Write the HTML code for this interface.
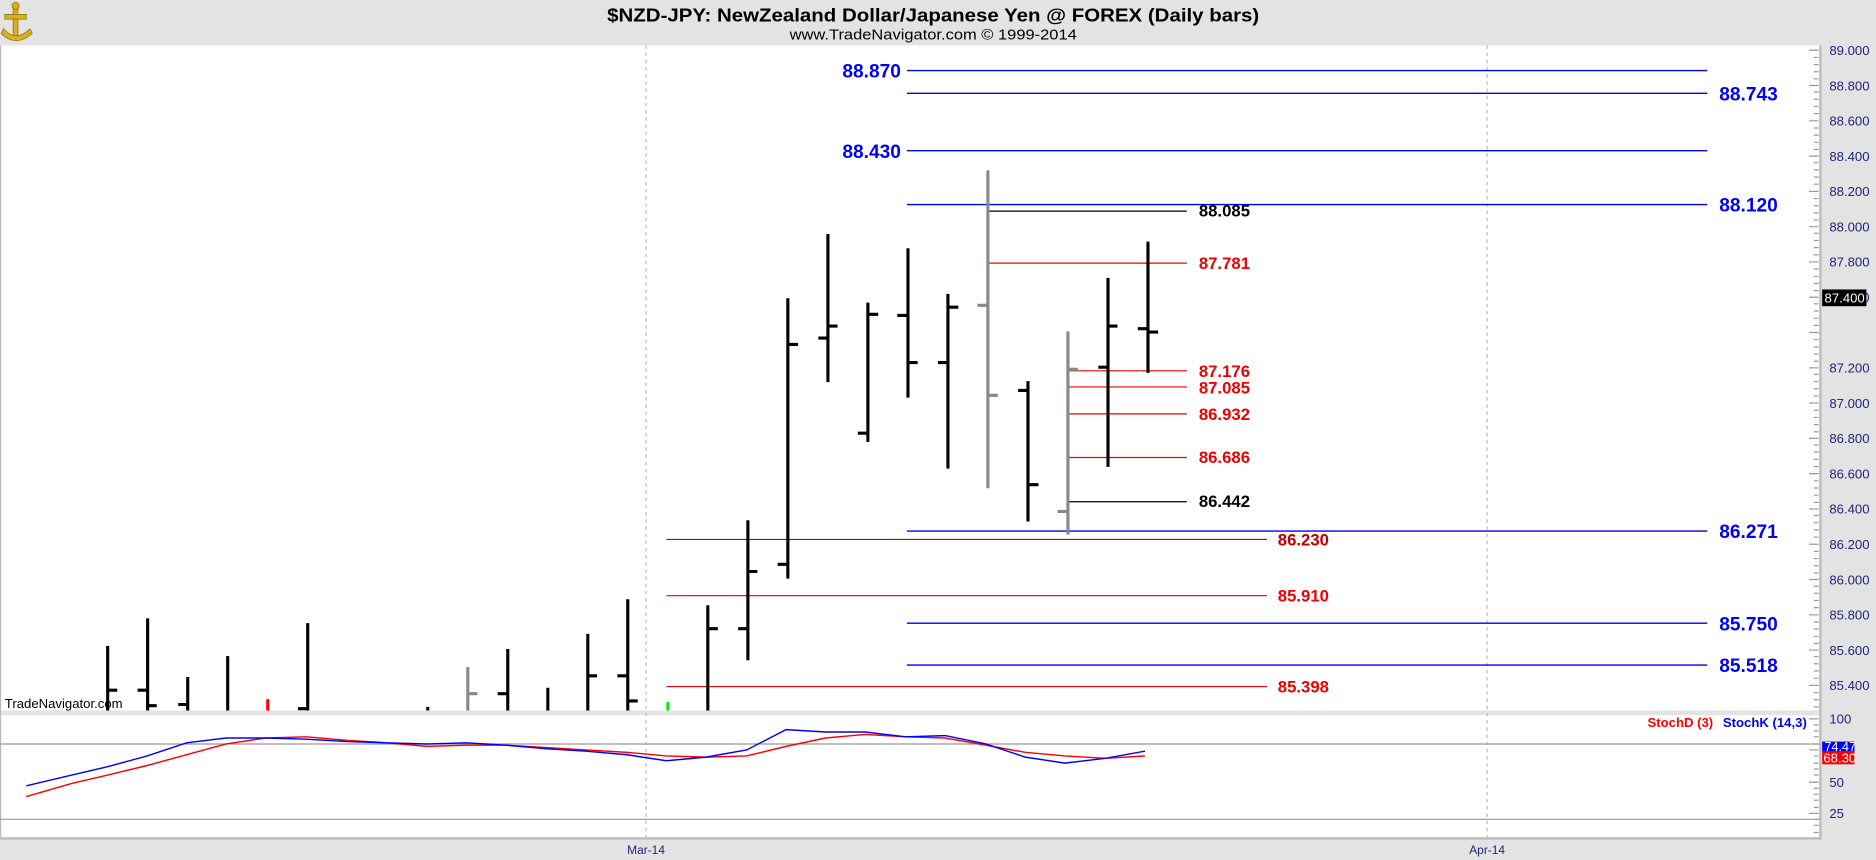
<!DOCTYPE html>
<html><head><meta charset="utf-8"><style>
html,body{margin:0;padding:0;background:#e3e3e3;}
svg{display:block;font-family:"Liberation Sans",Arial,sans-serif;}
</style></head><body>
<svg width="1876" height="860" viewBox="0 0 1568 719" preserveAspectRatio="none" xmlns="http://www.w3.org/2000/svg">
<rect x="0" y="0" width="1568" height="719" fill="#e3e3e3"/>
<!-- logo -->
<g fill="#d9b21a" stroke="#8a6d00" stroke-width="0.6">
<rect x="11" y="4" width="4" height="26"/>
<rect x="4" y="12" width="18" height="4"/>
<path d="M3 24 Q13 36 25 24 L27 28 Q13 40 1 28 Z"/>
<circle cx="13" cy="5" r="3"/>
</g>
<!-- title -->
<text x="780" y="18" text-anchor="middle" font-size="15.5" font-weight="bold" fill="#000" textLength="545" lengthAdjust="spacingAndGlyphs">$NZD-JPY:  NewZealand Dollar/Japanese Yen @ FOREX  (Daily bars)</text>
<text x="780" y="33" text-anchor="middle" font-size="12" fill="#000" textLength="240" lengthAdjust="spacingAndGlyphs">www.TradeNavigator.com © 1999-2014</text>
<!-- panels -->
<rect x="0" y="38" width="1521" height="556" fill="#fff"/>
<rect x="0" y="598" width="1521" height="102" fill="#fff"/>
<line x1="0.5" y1="38" x2="0.5" y2="700" stroke="#bbb"/>
<line x1="1521.5" y1="38" x2="1521.5" y2="702" stroke="#bdbdbd" stroke-width="2"/>
<line x1="0" y1="701" x2="1522" y2="701" stroke="#bdbdbd" stroke-width="2"/>
<!-- dashed verticals -->
<line x1="540" y1="38" x2="540" y2="700" stroke="#bbb" stroke-dasharray="3,3"/>
<line x1="1243" y1="38" x2="1243" y2="700" stroke="#bbb" stroke-dasharray="3,3"/>
<!-- price axis -->
<g font-size="11" fill="#23237a">
<text x="1529" y="46">89.000</text><text x="1529" y="75.5">88.800</text><text x="1529" y="105">88.600</text>
<text x="1529" y="134.5">88.400</text><text x="1529" y="164">88.200</text><text x="1529" y="193.5">88.000</text>
<text x="1529" y="223">87.800</text><text x="1529" y="252.5">87.600</text>
<text x="1529" y="311.5">87.200</text><text x="1529" y="341">87.000</text><text x="1529" y="370.5">86.800</text>
<text x="1529" y="400">86.600</text><text x="1529" y="429.5">86.400</text><text x="1529" y="459">86.200</text>
<text x="1529" y="488.5">86.000</text><text x="1529" y="518">85.800</text><text x="1529" y="547.5">85.600</text>
<text x="1529" y="577">85.400</text>
</g>
<g stroke="#999" stroke-width="1">
<path d="M1512 42H1520M1512 71.5H1520M1512 101H1520M1512 130.5H1520M1512 160H1520M1512 189.5H1520M1512 219H1520M1512 248.5H1520M1512 278H1520M1512 307.5H1520M1512 337H1520M1512 366.5H1520M1512 396H1520M1512 425.5H1520M1512 455H1520M1512 484.5H1520M1512 514H1520M1512 543.5H1520M1512 573H1520"/>
<path d="M1516 48H1520M1516 54H1520M1516 60H1520M1516 66H1520M1516 77H1520M1516 83H1520M1516 89H1520M1516 95H1520M1516 107H1520M1516 113H1520M1516 119H1520M1516 125H1520M1516 136H1520M1516 142H1520M1516 148H1520M1516 154H1520M1516 166H1520M1516 172H1520M1516 178H1520M1516 184H1520M1516 195H1520M1516 201H1520M1516 207H1520M1516 213H1520M1516 225H1520M1516 231H1520M1516 237H1520M1516 243H1520M1516 254H1520M1516 260H1520M1516 266H1520M1516 272H1520M1516 284H1520M1516 290H1520M1516 296H1520M1516 302H1520M1516 313H1520M1516 319H1520M1516 325H1520M1516 331H1520M1516 343H1520M1516 349H1520M1516 355H1520M1516 361H1520M1516 372H1520M1516 378H1520M1516 384H1520M1516 390H1520M1516 402H1520M1516 408H1520M1516 414H1520M1516 420H1520M1516 431H1520M1516 437H1520M1516 443H1520M1516 449H1520M1516 461H1520M1516 467H1520M1516 473H1520M1516 479H1520M1516 490H1520M1516 496H1520M1516 502H1520M1516 508H1520M1516 520H1520M1516 526H1520M1516 532H1520M1516 538H1520M1516 549H1520M1516 555H1520M1516 561H1520M1516 567H1520M1516 579H1520M1516 585H1520M1516 591H1520"/>
</g>
<rect x="1523" y="242" width="37" height="14" fill="#000"/>
<text x="1525" y="253" font-size="11" fill="#fff">87.400</text>
<!-- blue levels -->
<g stroke="#0000ee" stroke-width="1.2">
<path d="M758 59H1427M758 78H1427M758 126H1427M758 171H1427M758 444H1427M758 521H1427M758 556H1427"/>
</g>
<g font-size="16" font-weight="bold" fill="#0000ff">
<text x="753" y="65" text-anchor="end">88.870</text>
<text x="753" y="132" text-anchor="end">88.430</text>
<text x="1437" y="84">88.743</text>
<text x="1437" y="177">88.120</text>
<text x="1437" y="450">86.271</text>
<text x="1437" y="527">85.750</text>
<text x="1437" y="562">85.518</text>
</g>
<!-- black/red levels -->
<g stroke-width="1">
<path d="M826 176.5H992" stroke="#000"/>
<path d="M893 419.5H992" stroke="#000"/>
<path d="M826 220H992M893 310H992M893 323.5H992M893 346H992M893 382.5H992" stroke="#ee0000"/>
<path d="M557 451H1059" stroke="#c00000"/>
<path d="M557 498H1059M557 574H1059" stroke="#ee0000"/>
</g>
<g font-size="14" font-weight="bold">
<text x="1002" y="181" fill="#000">88.085</text>
<text x="1002" y="225" fill="#ee0000">87.781</text>
<text x="1002" y="315" fill="#ee0000">87.176</text>
<text x="1002" y="329" fill="#ee0000">87.085</text>
<text x="1002" y="351" fill="#ee0000">86.932</text>
<text x="1002" y="387" fill="#ee0000">86.686</text>
<text x="1002" y="424" fill="#000">86.442</text>
<text x="1068" y="456" fill="#c00000">86.230</text>
<text x="1068" y="503" fill="#ee0000">85.910</text>
<text x="1068" y="579" fill="#ee0000">85.398</text>
</g>
<!-- bars -->
<g stroke="#000" stroke-width="2.6" fill="none">
<path d="M90 540V594M90 577H98"/>
<path d="M123.4 517V594M115 577H123.4M123.4 590H131"/>
<path d="M156.9 566V594M149 589H156.9"/>
<path d="M190.3 548.5V594"/>
<path d="M257.2 521V594M249 592.5H257.2"/>
<path d="M357.5 591V594"/>
<path d="M424.4 542.6V594M416 580H424.4"/>
<path d="M457.9 575V594"/>
<path d="M491.3 530V594M491.3 565H499"/>
<path d="M524.7 501V594M516 565H524.7M524.7 586H533"/>
<path d="M591.6 506V594M591.6 525.6H600"/>
<path d="M625.1 435V552M617 525.6H625.1M625.1 477.8H633"/>
<path d="M658.5 249.3V483.8M650 471.8H658.5M658.5 288H667"/>
<path d="M692 195.6V319.5M684 282.6H692M692 272.6H700"/>
<path d="M725.4 253V369.4M717 362.2H725.4M725.4 262.8H734"/>
<path d="M758.9 207.5V332.4M750 263.7H758.9M758.9 303.1H767"/>
<path d="M792.3 245.7V391.8M784 303.1H792.3M792.3 256.8H801"/>
<path d="M859.2 318.6V436M851 326.4H859.2M859.2 405.2H868"/>
<path d="M926.1 232.3V390.3M918 307H926.1M926.1 272.6H934"/>
<path d="M959.5 202V311.7M951 274.8H959.5M959.5 277.6H968"/>
</g>
<g stroke="#888" stroke-width="2.6" fill="none">
<path d="M391 557.7V594M391 580H399"/>
<path d="M825.7 142.4V408.2M817 255.3H825.7M825.7 330.5H834"/>
<path d="M892.6 277.1V447M884 427.6H892.6M892.6 308.8H901"/>
</g>
<path d="M223.8 584.5V594" stroke="#ff0000" stroke-width="2.6"/>
<path d="M558.2 587V594" stroke="#00ee00" stroke-width="2.6"/>
<text x="4" y="592" font-size="11" fill="#000">TradeNavigator.com</text>
<!-- stoch panel -->
<line x1="0" y1="622" x2="1521" y2="622" stroke="#999"/>
<line x1="0" y1="685" x2="1521" y2="685" stroke="#999"/>
<text x="1377" y="608" font-size="11" font-weight="bold" fill="#ff0000">StochD (3)</text>
<text x="1440" y="608" font-size="11" font-weight="bold" fill="#0000ff">StochK (14,3)</text>
<polyline fill="none" stroke="#ff0000" stroke-width="1.2" points="22,666 60,655 90,648 123,640 156,631 189,622 222,617 256,616 290,619 323,621 357,624 390,623 423,623 457,625 490,627 524,629 557,632 590,633 624,632 657,624 690,617 723,614 757,616 790,617 824,623 857,629 890,632 924,634 957,632"/>
<polyline fill="none" stroke="#0000ff" stroke-width="1.2" points="22,657 60,648 90,641 123,632 156,621 189,617 222,617 256,618 290,620 323,621 357,622 390,621 423,623 457,626 490,628 524,631 557,636 590,633 624,627 657,610 690,612 723,612 757,616 790,615 824,622 857,633 890,638 924,634 957,628"/>
<g font-size="11" fill="#23237a">
<text x="1529" y="605">100</text><text x="1529" y="658">50</text><text x="1529" y="684">25</text>
</g>
<g stroke="#999"><path d="M1512 601H1520M1512 627H1520M1512 654H1520M1512 680H1520M1516 606H1520M1516 611H1520M1516 616H1520M1516 622H1520M1516 632H1520M1516 638H1520M1516 643H1520M1516 648H1520M1516 659H1520M1516 664H1520M1516 669H1520M1516 675H1520M1516 685H1520M1516 690H1520M1516 696H1520"/></g>
<rect x="1523" y="620" width="27" height="9" fill="#0000ff"/>
<text x="1525" y="628" font-size="10.5" fill="#fff">74.47</text>
<rect x="1523" y="628" width="27" height="11" fill="#ff0000"/>
<text x="1524" y="637.5" font-size="11" fill="#fff">68.30</text>
<!-- dates -->
<text x="540" y="714" font-size="10" fill="#23237a" text-anchor="middle">Mar-14</text>
<text x="1243" y="714" font-size="10" fill="#23237a" text-anchor="middle">Apr-14</text>
</svg>
</body></html>
